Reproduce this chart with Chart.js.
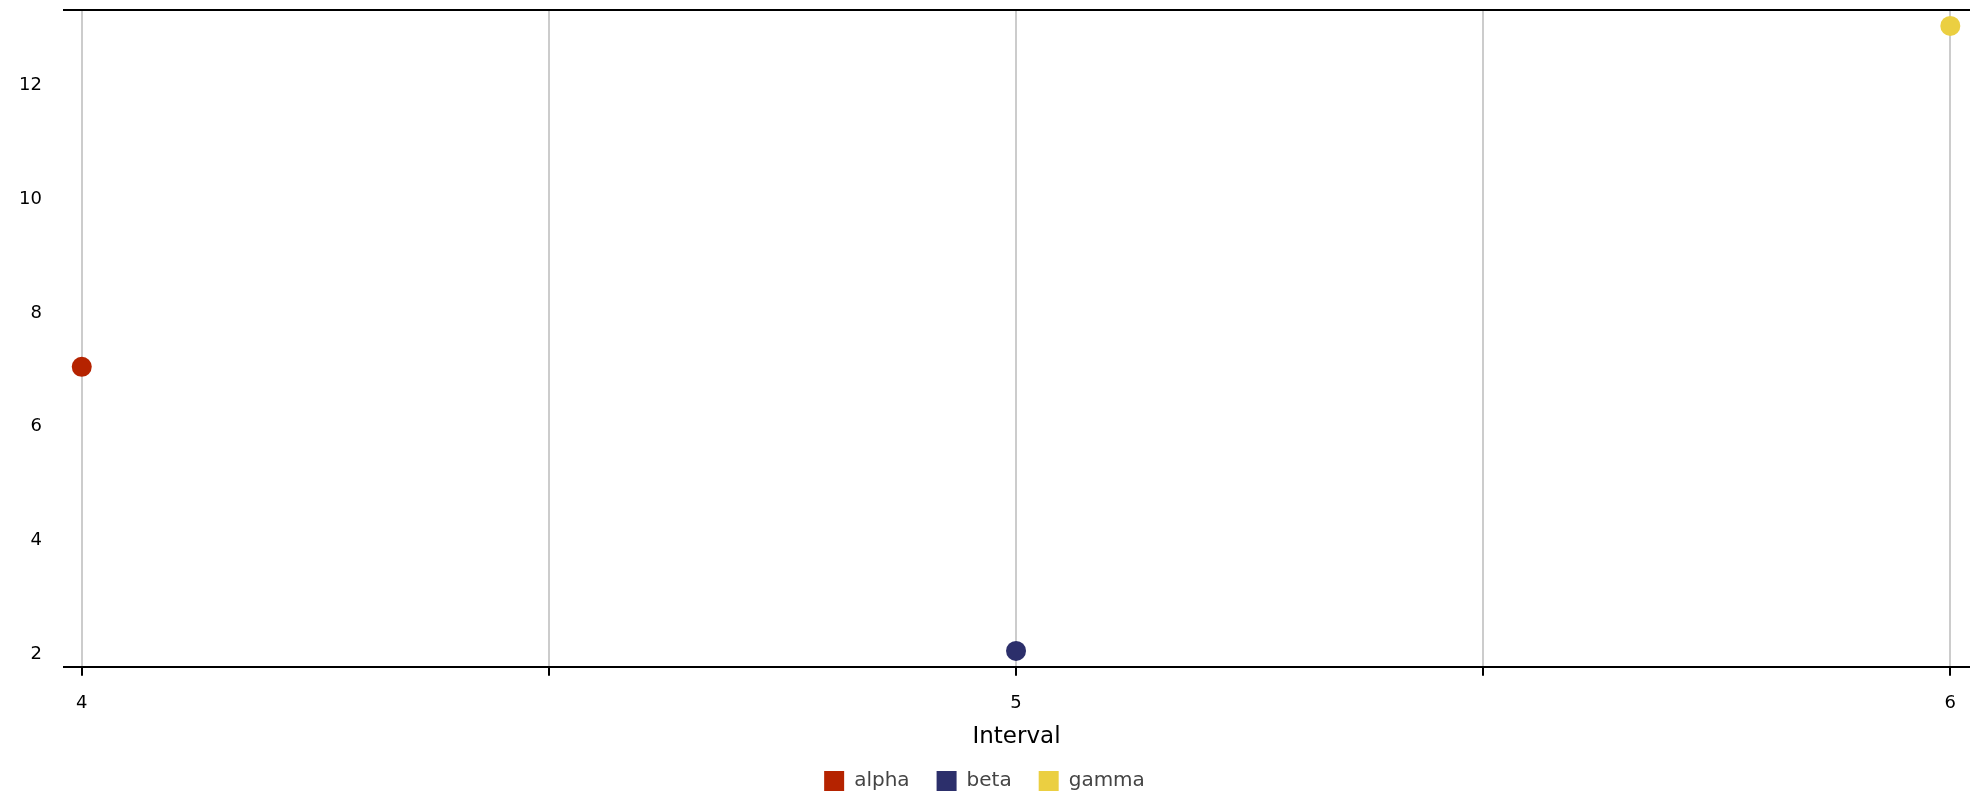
<!DOCTYPE html>
<html>
<head>
<meta charset="utf-8">
<script src="https://cdn.jsdelivr.net/npm/chart.js@4/dist/chart.umd.min.js"></script>
<style>
  html, body { margin: 0; padding: 0; background: #fff; }
  #wrap { width: 1980px; height: 800px; }
</style>
</head>
<body>
<div id="wrap"><canvas id="chart" width="1980" height="800"></canvas></div>
<script>
// one point per series
const seriesNames = ['alpha', 'beta', 'gamma'];
const intervals = [4, 5, 6];
const values = [7, 2, 13];
const seriesColors = ['#b52300', '#2c2f6b', '#ebcf41'];

const xGridValues = [4, 4.5, 5, 5.5, 6];
const xTickLabels = [4, 5, 6];
const yTickLabels = [2, 4, 6, 8, 10, 12];

const datasets = seriesNames.map((name, i) => ({
    label: name,
    data: [{ x: intervals[i], y: values[i] }],
    backgroundColor: seriesColors[i],
    borderColor: seriesColors[i],
    borderWidth: 0,
    pointRadius: 10,
    pointHoverRadius: 10,
    pointStyle: 'circle'
}));

const font = 'DejaVu Sans, Verdana, sans-serif';

// labels near the edges shouldn't push the plot area around
function noEdgePadding(scale) {
    scale.paddingTop = 0;
    scale.paddingBottom = 0;
    scale.paddingLeft = 0;
    scale.paddingRight = 0;
}

new Chart(document.getElementById('chart').getContext('2d'), {
    type: 'scatter',
    data: { datasets },
    options: {
        responsive: false,
        animation: false,
        devicePixelRatio: 1,
        layout: { padding: { left: 0, right: 11, top: 10, bottom: -1 } },
        plugins: {
            tooltip: { enabled: false },
            legend: {
                position: 'bottom',
                labels: {
                    boxWidth: 20,
                    boxHeight: 20,
                    padding: 27,
                    color: '#444',
                    font: { family: font, size: 20 },
                    generateLabels: chart => chart.data.datasets.map((ds, i) => ({
                        text: ds.label,
                        fillStyle: ds.backgroundColor,
                        strokeStyle: ds.backgroundColor,
                        lineWidth: 0,
                        fontColor: '#444',
                        datasetIndex: i
                    }))
                }
            }
        },
        scales: {
            x: {
                type: 'linear',
                position: 'bottom',
                min: 3.981,
                max: 6.020,
                afterBuildTicks: scale => {
                    scale.ticks = xGridValues.map(v => ({ value: v }));
                },
                afterFit: noEdgePadding,
                ticks: {
                    autoSkip: false,
                    maxRotation: 0,
                    padding: 17,
                    color: '#000',
                    font: { family: font, size: 18 },
                    callback: v => xTickLabels.includes(v) ? String(v) : ''
                },
                grid: {
                    color: '#cccccc',
                    lineWidth: 2,
                    drawTicks: true,
                    tickLength: 9,
                    tickColor: '#000',
                    tickWidth: 2
                },
                border: { display: true, color: '#000', width: 2 },
                title: {
                    display: true,
                    text: 'Interval',
                    color: '#000',
                    font: { family: font, size: 23 },
                    padding: { top: -8, bottom: -7 }
                }
            },
            x2: {
                type: 'linear',
                position: 'top',
                min: 3.981,
                max: 6.020,
                afterFit: scale => { scale.height = 0; noEdgePadding(scale); },
                ticks: { display: false },
                grid: { display: false, drawTicks: false },
                border: { display: true, color: '#000', width: 2 }
            },
            y: {
                type: 'linear',
                min: 1.72,
                max: 13.28,
                afterBuildTicks: scale => {
                    scale.ticks = yTickLabels.map(v => ({ value: v }));
                },
                afterFit: scale => { scale.width = 64; noEdgePadding(scale); },
                ticks: {
                    padding: 22,
                    labelOffset: 3,
                    color: '#000',
                    font: { family: font, size: 18 }
                },
                grid: { display: false, drawTicks: false },
                border: { display: false }
            }
        }
    }
});
</script>
</body>
</html>
